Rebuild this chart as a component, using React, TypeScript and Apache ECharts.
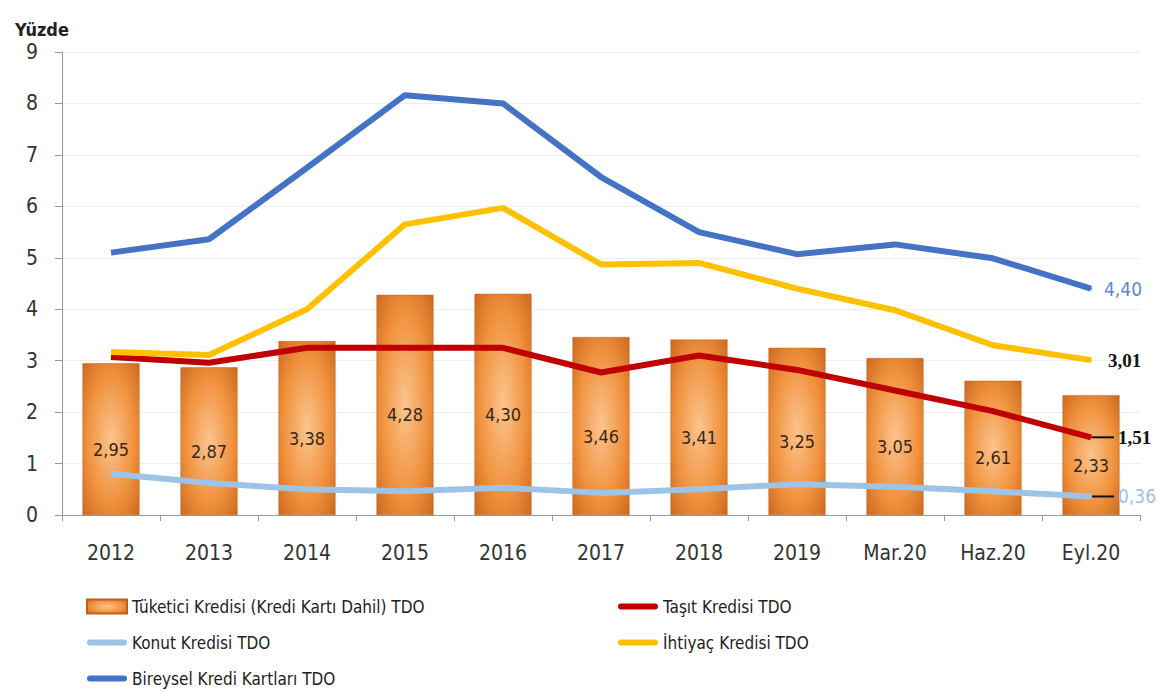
import React, { useEffect, useRef } from "react";
import * as echarts from "echarts";

const categories = ["2012", "2013", "2014", "2015", "2016", "2017", "2018", "2019", "Mar.20", "Haz.20", "Eyl.20"];
const tuketici = [2.95, 2.87, 3.38, 4.28, 4.3, 3.46, 3.41, 3.25, 3.05, 2.61, 2.33];
const tasit = [3.07, 2.96, 3.25, 3.25, 3.25, 2.77, 3.1, 2.82, 2.42, 2.02, 1.51];
const konut = [0.8, 0.62, 0.5, 0.46, 0.53, 0.43, 0.5, 0.6, 0.55, 0.46, 0.36];
const ihtiyac = [3.17, 3.11, 4.0, 5.65, 5.97, 4.87, 4.9, 4.4, 3.98, 3.3, 3.01];
const bireysel = [5.1, 5.36, 6.75, 8.16, 8.0, 6.57, 5.5, 5.07, 5.26, 4.99, 4.4];
const yTicks = [0, 1, 2, 3, 4, 5, 6, 7, 8, 9];

const NARROW = "'Liberation Sans Narrow', 'DejaVu Sans Condensed', sans-serif";
const SERIF = "'Liberation Serif', 'DejaVu Serif', serif";
const fmt = (v: number) => v.toFixed(2).replace(".", ",");
const pill = "path://M3,0 L37,0 A3,3 0 0 1 37,6 L3,6 A3,3 0 0 1 3,0 Z";

function withEndLabel(arr: number[], label: any) {
  return arr.map((v, i) =>
    i === arr.length - 1
      ? { value: v, symbol: "circle", symbolSize: 2, label: { show: true, ...label } }
      : { value: v, symbol: "none" }
  );
}

export default function App() {
  const ref = useRef<HTMLDivElement>(null);
  useEffect(() => {
    if (!ref.current) return;
    const chart = echarts.init(ref.current, undefined, { renderer: "svg" });
    const barColor = new echarts.graphic.RadialGradient(0.5, 0.5, 0.75, [
      { offset: 0, color: "#FBC48E" },
      { offset: 0.55, color: "#F0923E" },
      { offset: 1, color: "#C8621A" },
    ]);
    const dashRich = (color: string, textStyle: any) => ({
      d: { width: 22, height: 2, backgroundColor: "#111", verticalAlign: "middle" },
      s: { width: 4 },
      v: { color, ...textStyle },
    });
    const legendText = { fontFamily: NARROW, fontSize: 17, color: "#222" };
    chart.setOption({
      animation: false,
      backgroundColor: "#ffffff",
      title: {
        text: "Yüzde",
        left: 10,
        top: 15,
        textStyle: { fontFamily: NARROW, fontSize: 18, fontWeight: "bold", color: "#222" },
      },
      grid: { left: 62, right: 31, top: 52, bottom: 178 },
      legend: [
        {
          orient: "vertical",
          left: 81,
          top: 593,
          itemWidth: 40,
          itemHeight: 14,
          itemGap: 19,
          textStyle: legendText,
          data: [
            { name: "Tüketici Kredisi (Kredi Kartı Dahil) TDO", icon: "rect" },
            { name: "Konut Kredisi TDO", icon: pill },
            { name: "Bireysel Kredi Kartları TDO", icon: pill },
          ],
        },
        {
          orient: "vertical",
          left: 613,
          top: 593,
          itemWidth: 40,
          itemHeight: 14,
          itemGap: 19,
          textStyle: legendText,
          data: [
            { name: "Taşıt Kredisi TDO", icon: pill },
            { name: "İhtiyaç Kredisi TDO", icon: pill },
          ],
        },
      ],
      xAxis: {
        type: "category",
        data: categories,
        boundaryGap: true,
        axisLine: { show: true, lineStyle: { color: "#9a9a9a", width: 1 } },
        axisTick: { show: true, length: 6, lineStyle: { color: "#9a9a9a" } },
        axisLabel: { fontFamily: NARROW, fontSize: 21, color: "#333", margin: 27 },
      },
      yAxis: {
        type: "value",
        min: yTicks[0],
        max: yTicks[yTicks.length - 1],
        interval: 1,
        axisLine: { show: true, lineStyle: { color: "#9a9a9a", width: 1 } },
        axisTick: { show: true, length: 7, lineStyle: { color: "#9a9a9a" } },
        axisLabel: { fontFamily: NARROW, fontSize: 21, color: "#333", margin: 24 },
        splitLine: { show: true, lineStyle: { color: "#efefef", width: 1 } },
      },
      series: [
        {
          name: "Tüketici Kredisi (Kredi Kartı Dahil) TDO",
          type: "bar",
          data: tuketici,
          barWidth: 57,
          itemStyle: { color: barColor, borderColor: "#C0601C", borderWidth: 0.5 },
          label: {
            show: true,
            position: "inside",
            offset: [0, 10],
            formatter: (p: any) => fmt(p.value),
            fontFamily: NARROW,
            fontSize: 18,
            color: "#3a2816",
          },
          z: 1,
        },
        {
          name: "Konut Kredisi TDO",
          type: "line",
          data: withEndLabel(konut, {
            position: "right",
            distance: 0,
            formatter: (p: any) => "{d|}{s|}{v|" + fmt(p.value) + "}",
            rich: dashRich("#9DC3E6", { fontFamily: NARROW, fontSize: 19 }),
          }),
          lineStyle: { color: "#9DC3E6", width: 6 },
          itemStyle: { color: "#9DC3E6" },
          z: 3,
        },
        {
          name: "Taşıt Kredisi TDO",
          type: "line",
          data: withEndLabel(tasit, {
            position: "right",
            distance: 0,
            formatter: (p: any) => "{d|}{s|}{v|" + fmt(p.value) + "}",
            rich: dashRich("#111", { fontFamily: SERIF, fontSize: 19, fontWeight: "bold" }),
          }),
          lineStyle: { color: "#C00000", width: 6 },
          itemStyle: { color: "#C00000" },
          z: 4,
        },
        {
          name: "İhtiyaç Kredisi TDO",
          type: "line",
          data: withEndLabel(ihtiyac, {
            position: "right",
            distance: 16,
            formatter: (p: any) => fmt(p.value),
            fontFamily: SERIF,
            fontSize: 19,
            fontWeight: "bold",
            color: "#111",
          }),
          lineStyle: { color: "#FFC000", width: 6 },
          itemStyle: { color: "#FFC000" },
          z: 5,
        },
        {
          name: "Bireysel Kredi Kartları TDO",
          type: "line",
          data: withEndLabel(bireysel, {
            position: "right",
            distance: 12,
            formatter: (p: any) => fmt(p.value),
            fontFamily: NARROW,
            fontSize: 19,
            color: "#5B86D6",
          }),
          lineStyle: { color: "#4472C4", width: 6 },
          itemStyle: { color: "#4472C4" },
          z: 6,
        },
      ],
    });
    return () => chart.dispose();
  }, []);
  return <div ref={ref} style={{ width: 1171, height: 693, position: "absolute", left: 0, top: 0 }} />;
}
